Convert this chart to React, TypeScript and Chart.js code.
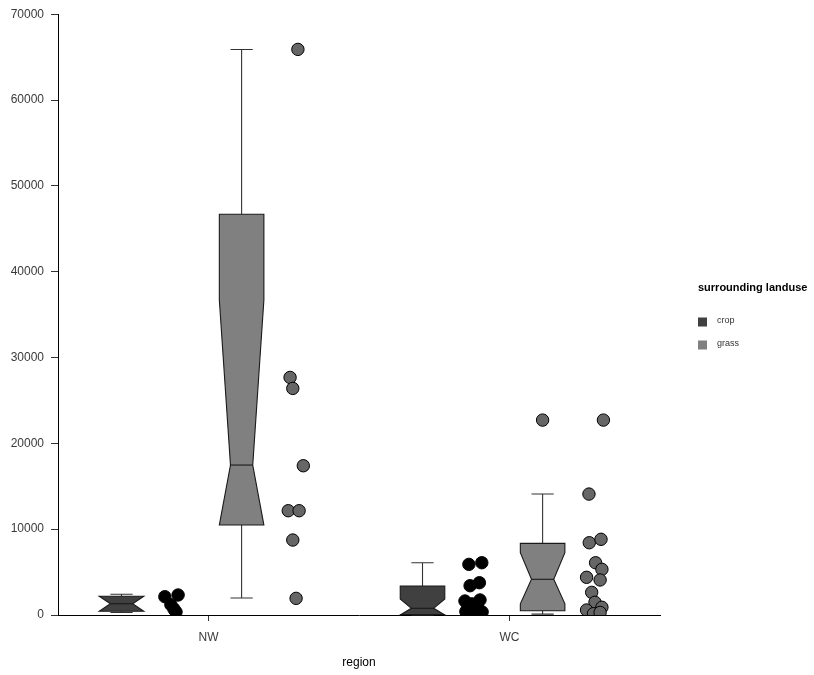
import { useEffect, useRef } from "react";
import { Chart, registerables } from "chart.js";

Chart.register(...registerables);

// Categories
const regions = ["NW", "WC"];
const landuses = ["crop", "grass"];
const landuseFills = ["#404040", "#808080"];
const legendTitle = "surrounding landuse";
const xTitle = "region";

// Y ticks
const yMin = 0;
const yMax = 70000;
const yStep = 10000;

// Box summaries, order: NW crop, NW grass, WC crop, WC grass
const boxRegion = [0, 0, 1, 1];
const boxLanduse = [0, 1, 0, 1];
const whiskerLow = [300, 1980, 0, 100];
const boxQ1 = [430, 10480, 60, 500];
const boxMedian = [1316, 17470, 780, 4160];
const boxQ3 = [2180, 46700, 3380, 8350];
const whiskerHigh = [2410, 65890, 6090, 14090];
const notchLow = [430, 10480, 0, 1300];
const notchHigh = [2180, 36690, 1860, 7260];

// Box outliers (x in axis units, y values)
const outlierX = [1.61];
const outlierY = [22710];

// Jittered raw points: crop
const cropX = [0.355, 0.399, 0.375, 0.385, 0.392,
  1.365, 1.408, 1.369, 1.4, 1.352, 1.402, 1.375, 1.362, 1.395, 1.355, 1.382, 1.409, 1.369, 1.395];
const cropY = [2130, 2330, 1200, 700, 350,
  5900, 6090, 3410, 3760, 1630, 1750, 1300, 900, 800, 400, 300, 350, 50, 0];

// Jittered raw points: grass
const grassX = [0.797, 0.771, 0.78, 0.815, 0.765, 0.801, 0.78, 0.791,
  1.812, 1.764, 1.765, 1.804, 1.786, 1.807, 1.756, 1.801, 1.773, 1.784, 1.756, 1.807, 1.779, 1.801];
const grassY = [65900, 27680, 26400, 17390, 12150, 12150, 8735, 1940,
  22710, 14090, 8420, 8820, 6090, 5320, 4390, 4080, 2640, 1480, 580, 900, 150, 300];

const toPts = (xs: number[], ys: number[]) => xs.map((x, i) => ({ x, y: ys[i] }));

const FONT = '"Liberation Sans", Arial, sans-serif';

const boxPlugin = {
  id: "notchedBoxes",
  beforeDatasetsDraw(chart: any) {
    const { ctx } = chart;
    const xs = chart.scales.x;
    const ys = chart.scales.y;
    const dodge = [-0.289, 0.11];
    const width = 0.148;
    ctx.save();
    for (let i = 0; i < boxQ1.length; i++) {
      const c = boxRegion[i] + 0.5 + dodge[boxLanduse[i]];
      const xl = xs.getPixelForValue(c - width / 2);
      const xr = xs.getPixelForValue(c + width / 2);
      const xc = xs.getPixelForValue(c);
      const nw = (xr - xl) * 0.25;
      const cap = (xr - xl) * 0.25;
      const yq1 = ys.getPixelForValue(boxQ1[i]);
      const yq3 = ys.getPixelForValue(boxQ3[i]);
      const ym = ys.getPixelForValue(boxMedian[i]);
      const ynl = ys.getPixelForValue(notchLow[i]);
      const ynh = ys.getPixelForValue(notchHigh[i]);
      const ywl = ys.getPixelForValue(whiskerLow[i]);
      const ywh = ys.getPixelForValue(whiskerHigh[i]);

      ctx.strokeStyle = "#333333";
      ctx.lineWidth = 1.1;
      // whiskers
      ctx.beginPath();
      ctx.moveTo(xc, yq3);
      ctx.lineTo(xc, ywh);
      ctx.moveTo(xc - cap, ywh);
      ctx.lineTo(xc + cap, ywh);
      ctx.moveTo(xc, yq1);
      ctx.lineTo(xc, ywl);
      ctx.moveTo(xc - cap, ywl);
      ctx.lineTo(xc + cap, ywl);
      ctx.stroke();

      // notched box
      ctx.beginPath();
      ctx.moveTo(xl, yq3);
      ctx.lineTo(xl, ynh);
      ctx.lineTo(xl + nw, ym);
      ctx.lineTo(xl, ynl);
      ctx.lineTo(xl, yq1);
      ctx.lineTo(xr, yq1);
      ctx.lineTo(xr, ynl);
      ctx.lineTo(xr - nw, ym);
      ctx.lineTo(xr, ynh);
      ctx.lineTo(xr, yq3);
      ctx.closePath();
      ctx.fillStyle = landuseFills[boxLanduse[i]];
      ctx.fill();
      ctx.strokeStyle = "#1a1a1a";
      ctx.stroke();

      // median
      ctx.beginPath();
      ctx.moveTo(xl + nw, ym);
      ctx.lineTo(xr - nw, ym);
      ctx.stroke();
    }
    ctx.restore();
  },
  afterDraw(chart: any) {
    const { ctx } = chart;
    ctx.save();
    ctx.textAlign = "left";
    ctx.textBaseline = "middle";
    ctx.fillStyle = "#000000";
    ctx.font = `bold 11px ${FONT}`;
    ctx.fillText(legendTitle, 698, 288);
    ctx.font = `9px ${FONT}`;
    landuses.forEach((name, i) => {
      const yc = 322 + i * 23;
      ctx.fillStyle = landuseFills[i];
      ctx.fillRect(698, yc - 4.5, 9, 9);
      ctx.fillStyle = "#333333";
      ctx.fillText(name, 717, yc - 1);
    });
    ctx.restore();
  },
};

export default function App() {
  const ref = useRef<HTMLCanvasElement | null>(null);

  useEffect(() => {
    if (!ref.current) return;
    const chart = new Chart(ref.current, {
      type: "scatter",
      data: {
        datasets: [
          {
            label: "crop",
            data: toPts(cropX, cropY),
            backgroundColor: "#000000",
            borderColor: "#000000",
            pointRadius: 6.2,
            pointBorderWidth: 1,
          },
          {
            label: "grass",
            data: toPts(grassX, grassY),
            backgroundColor: "#666666",
            borderColor: "#000000",
            pointRadius: 6.2,
            pointBorderWidth: 1,
          },
          {
            label: "outliers",
            data: toPts(outlierX, outlierY),
            backgroundColor: "#666666",
            borderColor: "#000000",
            pointRadius: 6.2,
            pointBorderWidth: 1,
          },
        ],
      },
      options: {
        responsive: false,
        animation: false,
        events: [],
        layout: { padding: { left: 0, top: 14, right: 154, bottom: 0 } },
        plugins: {
          legend: { display: false },
          tooltip: { enabled: false },
        },
        scales: {
          x: {
            type: "linear",
            min: 0,
            max: 2,
            afterBuildTicks: (s: any) => {
              s.ticks = regions.map((_, i) => ({ value: i + 0.5 }));
            },
            afterFit: (s: any) => {
              s.height = 60;
            },
            ticks: {
              autoSkip: false,
              maxRotation: 0,
              padding: 9,
              color: "#3a3a3a",
              font: { family: FONT, size: 12 },
              callback: (v: any) => regions[Math.round(Number(v) - 0.5)] ?? "",
            },
            grid: { display: true, drawOnChartArea: false, drawTicks: true, tickLength: 6, color: "#333333" },
            border: { display: true, color: "#000000", width: 1 },
            title: {
              display: true,
              text: xTitle,
              color: "#000000",
              font: { family: FONT, size: 12 },
              padding: { top: 0, bottom: 5 },
            },
          },
          y: {
            type: "linear",
            min: yMin,
            max: yMax,
            afterFit: (s: any) => {
              s.width = 58;
            },
            ticks: {
              stepSize: yStep,
              padding: 7,
              color: "#3a3a3a",
              font: { family: FONT, size: 12 },
              callback: (v: any) => String(v),
            },
            grid: { display: true, drawOnChartArea: false, drawTicks: true, tickLength: 7, color: "#333333" },
            border: { display: true, color: "#000000", width: 1 },
          },
        },
      },
      plugins: [boxPlugin],
    });
    return () => chart.destroy();
  }, []);

  return (
    <div style={{ position: "fixed", left: 0, top: 0, width: 814, height: 675, background: "#fff" }}>
      <canvas ref={ref} width={814} height={675} style={{ width: 814, height: 675, display: "block" }} />
    </div>
  );
}
